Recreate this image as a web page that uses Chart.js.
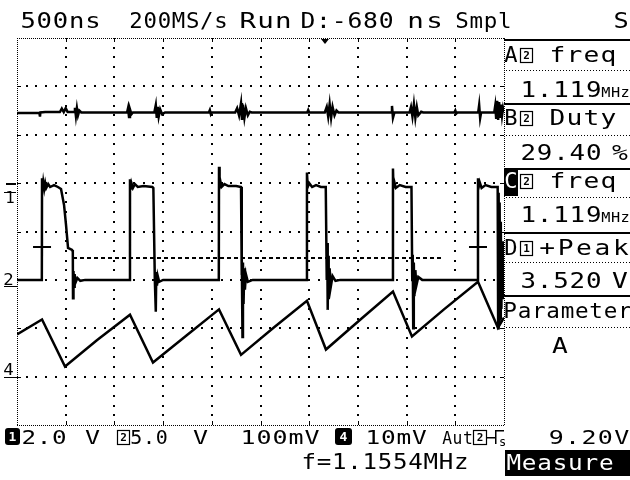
<!DOCTYPE html>
<html lang="en">
<head>
<meta charset="UTF-8">
<title>Scope capture</title>
<script src="https://cdn.jsdelivr.net/npm/chart.js"></script>
<style>
  html, body { margin: 0; padding: 0; background: #fff; }
  canvas { display: block; }
</style>
</head>
<body>
<canvas id="scope" width="630" height="480"></canvas>
<script>
// time in microseconds (500 ns/div, 10 div)
// channel 1: 2.0 V/div, volts
const ch1Trace = [
  [0, 3.0], [0.23, 3.0], [0.236, 2.85], [0.24, 3.02], [0.29, 3.04], [0.44, 3.04], [0.46, 3.18], [0.48, 3.04],
  [0.50, 3.2], [0.52, 3.04], [0.59, 3.04], [0.595, 3.22], [0.605, 2.87], [0.615, 3.2], [0.626, 2.9], [0.64, 3.1],
  [0.66, 3.02], [1.13, 3.02], [1.14, 3.2], [1.15, 2.83], [1.16, 3.15], [1.175, 2.95], [1.19, 3.02], [1.41, 3.02],
  [1.425, 3.33], [1.435, 2.8], [1.445, 3.25], [1.455, 2.85], [1.47, 3.15], [1.49, 2.95], [1.52, 3.02], [1.97, 3.02],
  [1.98, 3.12], [1.99, 2.95], [2.0, 3.02], [2.24, 3.02], [2.26, 3.2], [2.28, 2.9], [2.30, 3.41], [2.31, 2.71],
  [2.32, 3.35], [2.335, 2.8], [2.35, 3.2], [2.37, 2.9], [2.39, 3.05], [2.41, 3.02], [2.98, 3.02], [2.99, 3.12],
  [3.0, 3.02], [3.16, 3.02], [3.18, 3.25], [3.195, 2.85], [3.21, 3.37], [3.225, 2.8], [3.24, 3.25], [3.26, 2.9],
  [3.28, 3.1], [3.30, 3.02], [3.84, 3.02], [3.85, 3.29], [3.86, 2.8], [3.875, 3.02], [4.03, 3.02], [4.045, 3.25],
  [4.06, 2.85], [4.075, 3.37], [4.09, 2.8], [4.105, 3.25], [4.12, 2.9], [4.15, 3.05], [4.17, 3.02], [4.49, 3.02],
  [4.5, 3.1], [4.51, 2.98], [4.52, 3.02], [4.735, 3.02], [4.745, 3.33], [4.755, 2.79], [4.765, 3.02], [4.90, 3.02],
  [4.91, 3.3], [4.92, 2.75], [4.93, 3.5], [4.94, 2.71], [4.95, 3.45], [4.96, 2.8], [4.97, 3.35], [4.98, 2.9],
  [4.99, 3.2], [5.0, 3.02]
];

// channel 2: 5.0 V/div, volts (switch node)
const ch2Trace = [
  [0, 0], [0.255, 0], [0.257, 10.5], [0.262, 9.3], [0.27, 10.1], [0.28, 9.4], [0.29, 10.0], [0.30, 9.5],
  [0.32, 9.9], [0.34, 9.6], [0.38, 9.8], [0.42, 9.6], [0.452, 9.4], [0.483, 7.75], [0.503, 5.7], [0.524, 3.3],
  [0.565, 3.1], [0.573, 2.9], [0.575, -1.9], [0.58, 0.9], [0.586, -0.7], [0.592, 0.6], [0.60, -0.3], [0.62, 0.2],
  [0.65, -0.1], [0.70, 0],
  [1.158, 0], [1.16, 10.4], [1.165, 9.3], [1.175, 10.0], [1.19, 9.5], [1.21, 9.9], [1.24, 9.6], [1.30, 9.7],
  [1.39, 9.6], [1.40, 9.5], [1.415, 0], [1.425, -3.3], [1.43, 0.8], [1.437, -0.6], [1.445, 0.4], [1.46, -0.2],
  [1.50, 0],
  [2.072, 0], [2.074, 11.7], [2.08, 9.5], [2.09, 10.1], [2.10, 9.6], [2.13, 9.9], [2.17, 9.7], [2.25, 9.7],
  [2.30, 9.6], [2.305, 0.5], [2.31, 2.5], [2.315, -5.9], [2.32, 1.8], [2.326, -2.5], [2.333, 1.2], [2.34, -1.0],
  [2.35, 0.6], [2.37, -0.2], [2.42, 0],
  [2.975, 0], [2.977, 11.1], [2.985, 9.6], [3.0, 10.0], [3.03, 9.6], [3.07, 9.8], [3.12, 9.6], [3.17, 9.6],
  [3.18, 0], [3.185, 3.8], [3.19, -3.1], [3.195, 2.5], [3.20, -2.0], [3.21, 1.2], [3.22, -0.8], [3.24, 0.4],
  [3.27, -0.1], [3.32, 0],
  [3.858, 0], [3.86, 11.5], [3.865, 9.6], [3.875, 10.1], [3.89, 9.5], [3.93, 9.8], [3.99, 9.6], [4.05, 9.6],
  [4.058, 0], [4.063, 2.6], [4.068, -5.0], [4.074, 1.8], [4.08, -1.7], [4.09, 1.0], [4.10, -0.6], [4.12, 0.3],
  [4.16, 0],
  [4.731, 0], [4.733, 10.5], [4.74, 9.6], [4.75, 10.1], [4.77, 9.5], [4.81, 9.8], [4.87, 9.6], [4.935, 9.6],
  [4.94, -5.0], [4.945, 9.0], [4.95, -4.5], [4.955, 8.0], [4.96, -4.0], [4.967, 6.0], [4.973, -3.0], [4.98, 4.0],
  [4.987, -2.0], [4.993, 2.0], [5.0, 0]
];

// channel 4: 10 mV/div, millivolts (inductor current sense)
const ch4Trace = [
  [0, 8.7], [0.257, 11.8], [0.493, 2.1], [0.82, 7.5], [1.16, 12.8], [1.396, 2.9], [1.74, 8.5], [2.074, 13.9],
  [2.30, 4.5], [2.64, 10.2], [2.977, 15.7], [3.172, 5.6], [3.52, 11.7], [3.86, 17.6], [4.055, 8.3], [4.39, 14.0],
  [4.733, 19.6], [4.938, 10.1], [5.0, 12.2]
];

// cursor level (ch2 volts) and its time span, measurement markers
const cursorLevel = 2.27;
const cursorSpan = [0.575, 4.374];
const markerTimes = [0.257, 4.733];
const markerLevel = 3.41;

// channel settings: volts per div and ground offset in divisions
const ch1 = { perDiv: 2.0, offset: 0.95 };
const ch2 = { perDiv: 5.0, offset: -1.0 };
const ch4 = { perDiv: 10.0, offset: -3.0 };

const topLabels = ['500ns', '200MS/s', 'Run', 'D:-680', 'ns', 'Smpl', 'S'];
const measLabels = ['freq', 'Duty', 'freq', '+Peak'];
const measValues = ['1.119', '29.40', '1.119', '3.520'];
const measUnits = ['MHz', '%', 'MHz', 'V'];
const chSettings = ['2.0', 'V', '5.0', 'V', '100mV', '10mV', 'Aut', '9.20V'];
const freqText = 'f=1.1554MHz';

const toDiv = (pts, ch) => pts.map(p => ({ x: p[0], y: ch.offset + p[1] / ch.perDiv }));

const FONT = '"DejaVu Sans Mono", monospace';

// one character cell each, glyphs widened a bit to look like the scope's bitmap font
function spread(ctx, str, x0, x1, base, size, color) {
  ctx.font = size + 'px ' + FONT;
  ctx.fillStyle = color || '#000';
  ctx.textAlign = 'center';
  ctx.textBaseline = 'alphabetic';
  const adv = ctx.measureText('0').width;
  const n = str.length;
  const pitch = (x1 - x0) / n;
  const sx = Math.max(0.75, Math.min(1.25, pitch * 0.95 / adv));
  for (let i = 0; i < n; i++) {
    ctx.save();
    ctx.translate(x0 + pitch * (i + 0.5), base);
    ctx.scale(sx, 1);
    ctx.fillText(str[i], 0, 0);
    ctx.restore();
  }
}

function boxNum(ctx, d, x, top, w, h, filled) {
  ctx.save();
  if (filled) {
    ctx.fillStyle = '#000';
    ctx.beginPath();
    ctx.roundRect(x, top, w, h, 3);
    ctx.fill();
  } else {
    ctx.strokeStyle = '#000';
    ctx.lineWidth = 1.2;
    ctx.strokeRect(x + 0.5, top + 0.5, w - 1, h - 1);
  }
  ctx.font = 'bold ' + (h - 4) + 'px ' + FONT;
  ctx.fillStyle = filled ? '#fff' : '#000';
  ctx.textAlign = 'center';
  ctx.textBaseline = 'middle';
  ctx.fillText(d, x + w / 2, top + h / 2 + 1);
  ctx.restore();
}

function hline(ctx, x0, x1, y, w) {
  ctx.fillStyle = '#000';
  ctx.fillRect(x0, y, x1 - x0, w || 1);
}

function dotted(ctx, x0, x1, y, step) {
  ctx.fillStyle = '#000';
  for (let x = x0; x <= x1; x += step) ctx.fillRect(x, y, 1, 1);
}

const scopeGrid = {
  id: 'scopeGrid',
  beforeDraw(chart) {
    const ctx = chart.ctx;
    ctx.save();
    ctx.fillStyle = '#fff';
    ctx.fillRect(0, 0, chart.width, chart.height);
    ctx.restore();
  },
  beforeDatasetsDraw(chart) {
    const ctx = chart.ctx, xs = chart.scales.x, ys = chart.scales.y;
    const a = chart.chartArea;
    const L = Math.round(a.left), R = Math.round(a.right), T = Math.round(a.top), B = Math.round(a.bottom);
    ctx.save();
    ctx.fillStyle = '#000';
    // dotted major lines
    for (let i = 1; i < 10; i++) {
      const x = Math.round(xs.getPixelForValue(i * 0.5));
      for (let k = 1; k < 40; k++) {
        const y = Math.round(ys.getPixelForValue(-4 + k * 0.2));
        ctx.fillRect(x - 1, y - 1, 2, 2);
      }
      ctx.fillRect(x, T, 1, 4);
      ctx.fillRect(x, B - 4, 1, 4);
    }
    for (let j = -3; j <= 3; j++) {
      const y = Math.round(ys.getPixelForValue(j));
      for (let k = 1; k < 50; k++) {
        const x = Math.round(xs.getPixelForValue(k * 0.1));
        ctx.fillRect(x - 1, y - 1, 2, 2);
      }
      ctx.fillRect(L, y, 4, 1);
      ctx.fillRect(R - 4, y, 4, 1);
    }
    // dense dotted frame
    for (let x = L; x <= R; x += 2) { ctx.fillRect(x, T, 1, 1); ctx.fillRect(x, B, 1, 1); }
    for (let y = T; y <= B; y += 2) { ctx.fillRect(L, y, 1, 1); ctx.fillRect(R, y, 1, 1); }
    // trigger position marker
    const tx = 325;
    ctx.beginPath();
    ctx.moveTo(tx - 4, T + 1); ctx.lineTo(tx + 4, T + 1); ctx.lineTo(tx, T + 6); ctx.closePath();
    ctx.fill();
    ctx.restore();
  },
  afterDraw(chart) {
    const ctx = chart.ctx;
    ctx.save();
    // header
    spread(ctx, topLabels[0], 20, 101, 28, 22);
    spread(ctx, topLabels[1], 129, 228, 28, 22);
    spread(ctx, topLabels[2], 239, 292, 28, 22);
    spread(ctx, topLabels[3], 300, 394, 28, 22);
    spread(ctx, topLabels[4], 406, 444, 28, 22);
    spread(ctx, topLabels[5], 455, 512, 28, 22);
    spread(ctx, topLabels[6], 613, 629, 28, 22);

    // measurement panel
    const blockTop = [39, 103, 168, 232, 295];
    const labelBase = [62, 125, 188, 255, 318];
    const valueBase = [97, 160, 222, 288, 353];
    const dotY = [70, 135, 197, 262, 327];
    blockTop.forEach(y => hline(ctx, 504, 630, y, 2));
    dotY.forEach(y => dotted(ctx, 506, 630, y, 3));
    const letters = ['A', 'B', 'C', 'D'];
    const chanOf = ['2', '2', '2', '1'];
    for (let i = 0; i < 4; i++) {
      if (i === 2) {
        ctx.fillStyle = '#000';
        ctx.fillRect(504, 168, 14, 28);
        spread(ctx, letters[i], 504, 518, labelBase[i], 21, '#fff');
      } else {
        spread(ctx, letters[i], 504, 518, labelBase[i], 21);
      }
      boxNum(ctx, chanOf[i], 520, labelBase[i] - 14, 13, 15, false);
      if (i === 3) spread(ctx, measLabels[i], 538, 630, labelBase[i], 21);
      else spread(ctx, measLabels[i], 549, 617, labelBase[i], 21);
      spread(ctx, measValues[i], 520, 602, valueBase[i], 21);
      if (measUnits[i] === 'MHz') spread(ctx, 'MHz', 601, 630, valueBase[i], 14);
      else spread(ctx, measUnits[i], 611, 629, valueBase[i], 21);
    }
    spread(ctx, 'Parameter', 503, 632, labelBase[4], 21);
    spread(ctx, 'A', 550, 570, valueBase[4], 21);

    // left channel markers
    ctx.fillStyle = '#000';
    ctx.fillRect(6, 183, 10, 2);
    spread(ctx, '1', 5, 15, 203, 16);
    ctx.fillRect(4, 192, 12, 1);
    spread(ctx, '2', 3, 14, 285, 15);
    ctx.fillRect(4, 286, 13, 1);
    spread(ctx, '4', 3, 14, 375, 15);
    ctx.fillRect(4, 377, 13, 1);

    // channel settings row
    boxNum(ctx, '1', 5, 428, 15, 17, true);
    spread(ctx, chSettings[0], 21, 67, 444, 20);
    spread(ctx, chSettings[1], 83, 102, 444, 20);
    boxNum(ctx, '2', 117, 430, 13, 15, false);
    spread(ctx, chSettings[2], 130, 168, 444, 20);
    spread(ctx, chSettings[3], 191, 210, 444, 20);
    spread(ctx, chSettings[4], 240, 320, 444, 20);
    boxNum(ctx, '4', 335, 428, 17, 17, true);
    spread(ctx, chSettings[5], 365, 427, 444, 20);
    spread(ctx, chSettings[6], 442, 473, 444, 18);
    boxNum(ctx, '2', 473, 430, 14, 15, false);
    // trigger slope symbol
    ctx.fillStyle = '#000';
    ctx.fillRect(487, 437, 8, 1.5);
    ctx.fillRect(495, 430, 1.5, 14);
    ctx.fillRect(495, 430, 9, 1.5);
    ctx.font = '12px ' + FONT;
    ctx.textAlign = 'left';
    ctx.fillText('s', 499, 446);
    spread(ctx, chSettings[7], 548, 630, 444, 20);

    // frequency counter and softkey
    spread(ctx, freqText, 301, 469, 469, 22);
    ctx.fillStyle = '#000';
    ctx.fillRect(505, 450, 125, 26);
    spread(ctx, 'Measure', 506, 614, 470, 22, '#fff');
    ctx.restore();
  }
};

const traceStyle = { borderColor: '#000', borderWidth: 2.5, pointRadius: 0, fill: false, tension: 0 };

new Chart(document.getElementById('scope').getContext('2d'), {
  type: 'line',
  data: {
    datasets: [
      Object.assign({ label: 'CH1', data: toDiv(ch1Trace, ch1) }, traceStyle),
      Object.assign({ label: 'CH2', data: toDiv(ch2Trace, ch2) }, traceStyle),
      Object.assign({ label: 'CH4', data: toDiv(ch4Trace, ch4) }, traceStyle),
      {
        label: 'cursor',
        data: toDiv(cursorSpan.map(t => [t, cursorLevel]), ch2),
        borderColor: '#000', borderWidth: 2, borderDash: [4, 3], pointRadius: 0
      },
      {
        label: 'markers',
        data: toDiv(markerTimes.map(t => [t, markerLevel]), ch2),
        showLine: false, pointStyle: 'cross', pointRadius: 9,
        pointBorderWidth: 2, borderColor: '#000', pointBorderColor: '#000'
      }
    ]
  },
  options: {
    responsive: false,
    animation: false,
    events: [],
    layout: { padding: { left: 17, top: 38, right: 126, bottom: 55 } },
    scales: {
      x: { type: 'linear', min: 0, max: 5, display: false },
      y: { type: 'linear', min: -4, max: 4, display: false }
    },
    plugins: {
      legend: { display: false },
      tooltip: { enabled: false }
    }
  },
  plugins: [scopeGrid]
});
</script>
</body>
</html>
